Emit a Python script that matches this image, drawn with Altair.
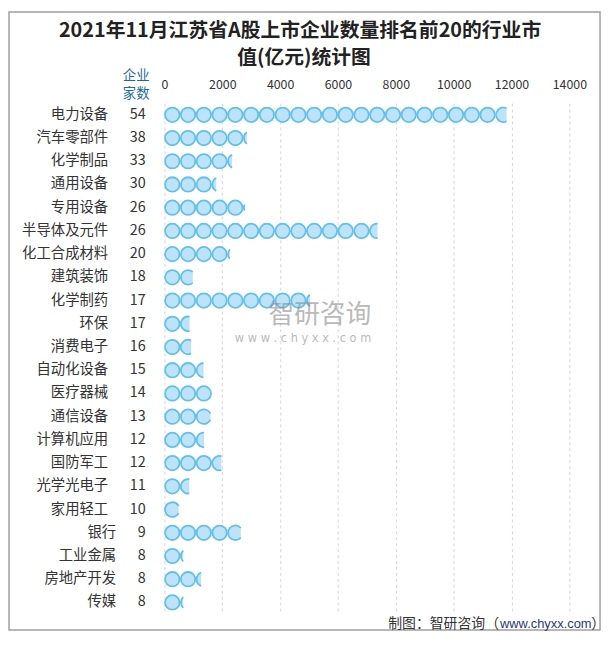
import math
import altair as alt
import pandas as pd

categories = ["电力设备", "汽车零部件", "化学制品", "通用设备", "专用设备", "半导体及元件",
              "化工合成材料", "建筑装饰", "化学制药", "环保", "消费电子", "自动化设备",
              "医疗器械", "通信设备", "计算机应用", "国防军工", "光学光电子", "家用轻工",
              "银行", "工业金属", "房地产开发", "传媒"]
counts = [54, 38, 33, 30, 26, 26, 20, 18, 17, 17, 16, 15, 14, 13, 12, 12, 11, 10, 9, 8, 8, 8]
values = [11830, 2850, 2340, 1790, 2770, 7370, 2260, 980, 5030, 870, 925, 1350,
          1630, 1590, 1370, 1970, 860, 490, 2640, 650, 1270, 650]
x_ticks = [0, 2000, 4000, 6000, 8000, 10000, 12000, 14000]

title_lines = ["2021年11月江苏省A股上市企业数量排名前20的行业市", "值(亿元)统计图"]
header_lines = ["企业", "家数"]
source_parts = ["制图：智研咨询（", "www.chyxx.com", "）"]

UNIT = 545          # value represented by one circle symbol
W, H = 409, 516
XMAX = 14000
PX = W / XMAX
D = 14.6            # symbol diameter in px
R = D / 2
FILL = "#bde3f8"
STROKE = "#62c0ea"
FONT = "Noto Sans CJK SC"

full_rows, part_rows = [], []
for cat, v in zip(categories, values):
    n = math.ceil(v / UNIT)
    for k in range(n):
        center = (k + 0.5) * UNIT
        f = (v - k * UNIT) / UNIT
        c = (f - 0.5) * UNIT * PX / R
        if c >= 1:
            full_rows.append({"category": cat, "pos": center})
        elif c > -1:
            h = math.sqrt(1 - c * c)
            large = 1 if c > 0 else 0
            arc = f"M{c:.4f},{-h:.4f}A1,1 0 {large} 0 {c:.4f},{h:.4f}"
            part_rows.append({"category": cat, "pos": center,
                              "fillpath": arc + "Z", "strokepath": arc})

full_df = pd.DataFrame(full_rows)
part_df = pd.DataFrame(part_rows)
label_df = pd.DataFrame({"category": categories, "count": counts})
label_df["label"] = [f"{c}\u3000\u2002{n}" for c, n in zip(categories, counts)]

x_enc = alt.X("pos:Q",
              scale=alt.Scale(domain=[0, XMAX], nice=False, zero=False),
              axis=alt.Axis(orient="top", values=x_ticks, grid=True, gridDash=[3, 3],
                            gridColor="#d6d6d6", gridWidth=1, domain=False, ticks=False,
                            tickSize=0, labelPadding=12, labelFlush=False, format="d",
                            title=None, labelFontSize=12.5, labelColor="#333333",
                            labelFont=FONT))
y_enc = alt.Y("category:N", sort=categories,
              scale=alt.Scale(type="point", domain=categories, padding=0.5),
              axis=None)

full = alt.Chart(full_df).mark_point(
    shape="circle", size=D * D, filled=True, fill=FILL, stroke=STROKE,
    strokeWidth=1.8, opacity=1
).encode(x=x_enc, y=y_enc)

part_fill = alt.Chart(part_df).mark_point(
    size=D * D, filled=True, fill=FILL, strokeWidth=0, opacity=1
).encode(x=x_enc, y=y_enc, shape=alt.Shape("fillpath:N", scale=None, legend=None))

part_stroke = alt.Chart(part_df).mark_point(
    size=D * D, filled=False, stroke=STROKE, strokeWidth=1.8, opacity=1
).encode(x=x_enc, y=y_enc, shape=alt.Shape("strokepath:N", scale=None, legend=None))

labels = alt.Chart(label_df).mark_text(
    align="right", baseline="middle", font=FONT, fontSize=14.5, color="#333333"
).encode(y=y_enc, x=alt.value(-19), text="label:N")

one = alt.Data(values=[{"k": 1}])


def deco(text, x, y, **kw):
    props = dict(font=FONT, baseline="middle")
    props.update(kw)
    return alt.Chart(one).mark_text(text=text, **props).encode(
        x=alt.value(x), y=alt.value(y))


title1 = deco(title_lines[0], 137, -73, fontSize=20, fontWeight="bold",
              align="center", color="#222222")
title2 = deco(title_lines[1], 141, -46, fontSize=20, fontWeight="bold",
              align="center", color="#222222")
head1 = deco(header_lines[0], -28.5, -27, fontSize=13.5, align="center", color="#1e6b9a")
head2 = deco(header_lines[1], -28.5, -9, fontSize=13.5, align="center", color="#1e6b9a")
src1 = deco(source_parts[0], 338, 526, fontSize=14, align="right", color="#333333")
src2 = deco(source_parts[1], 339, 526, fontSize=13, align="left", color="#1f3a7a",
            font="Liberation Sans")
src3 = deco(source_parts[2], 431, 526, fontSize=14, align="left", color="#333333")
wm1 = deco("智研咨询", 157, 214, fontSize=26, align="center", color="#8c8c8c", opacity=0.6)
wm2 = deco("w w w . c h y x x . c o m", 140, 238, fontSize=11.5, align="center",
           color="#8c8c8c", opacity=0.6, font="DejaVu Sans")

frame = alt.Chart(one).mark_rect(fill="transparent", stroke="#a0a0a0", strokeWidth=1.5).encode(
    x=alt.value(-157), x2=alt.value(440), y=alt.value(-92), y2=alt.value(532))

chart = alt.layer(
    frame, full, part_fill, part_stroke, labels,
    title1, title2, head1, head2, src1, src2, src3, wm1, wm2
).properties(
    width=W, height=H,
    autosize=alt.AutoSizeParams(type="none"),
    padding={"left": 158, "top": 93, "right": 35, "bottom": 17},
).configure_view(strokeWidth=0)

chart.save("out.html", embed_options={"renderer": "svg", "actions": False})
